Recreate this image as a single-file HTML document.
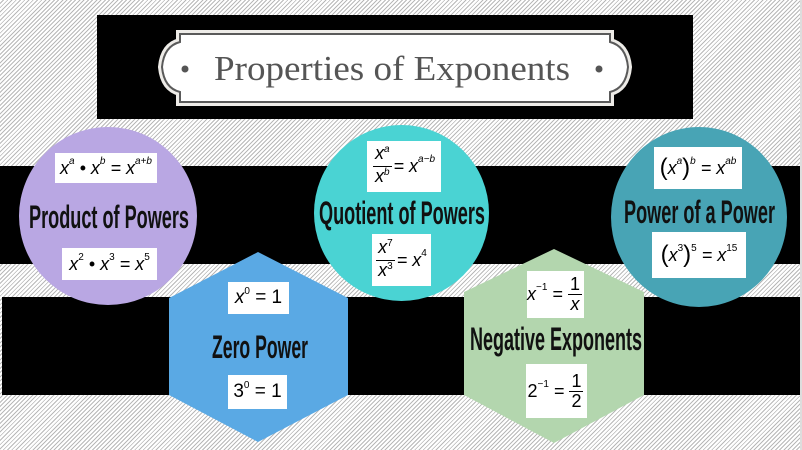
<!DOCTYPE html>
<html><head><meta charset="utf-8"><style>
*{margin:0;padding:0;box-sizing:border-box}
body{width:802px;height:450px;overflow:hidden;position:relative;font-family:"Liberation Sans",sans-serif;
background:#fff repeating-linear-gradient(135deg,#fff 0,#fff 2px,#b8b8b8 2px,#b8b8b8 3px);}
.abs{position:absolute}
.band{position:absolute;background:#000;left:0;width:800px}
.circ{position:absolute;border-radius:50%}
.box{position:absolute;background:#fff;display:flex;align-items:center;justify-content:center;font-family:"Liberation Sans",sans-serif;font-style:italic;font-size:18px;color:#000;white-space:nowrap}
.box sup{font-size:10px;position:relative;top:-7px;vertical-align:baseline}
.fr{display:inline-flex;flex-direction:column;align-items:center;line-height:19px;margin-right:2px}
.fr span:first-child{border-bottom:1px solid #000;padding:0 2px}
.n{font-style:normal}
</style></head><body>
<div class="abs" style="left:800px;top:0;width:2px;height:450px;background:#ddd"></div>
<div class="abs" style="left:97px;top:15px;width:596px;height:104px;background:#000"></div>
<svg class="abs" style="left:150px;top:20px" width="490" height="95">
<path d="M30,14 H460 V22 Q476,26 478,47 Q476,68 460,72 V82 H30 V72 Q14,68 12,47 Q14,26 30,22 Z" fill="#fff" stroke="#eeece8" stroke-width="8"/>
<path d="M30,14 H460 V22 Q476,26 478,47 Q476,68 460,72 V82 H30 V72 Q14,68 12,47 Q14,26 30,22 Z" fill="#fff" stroke="#5a5a5a" stroke-width="2"/>
<circle cx="35" cy="49" r="3.5" fill="#555"/><circle cx="449" cy="49" r="3.5" fill="#555"/>
<text x="242" y="60" text-anchor="middle" font-family="Liberation Serif, serif" font-size="35" fill="#555" textLength="356" lengthAdjust="spacingAndGlyphs">Properties of Exponents</text>
</svg>
<div class="band" style="top:166px;height:98px"></div>
<div class="band" style="top:297px;height:98px;left:2px;width:798px"></div>
<div class="circ" style="left:19px;top:127px;width:178px;height:178px;background:#b9a7e3"></div>
<div class="circ" style="left:314px;top:125px;width:175px;height:176px;background:#4ad3d3"></div>
<div class="circ" style="left:611px;top:127px;width:176px;height:180px;background:#48a4b5"></div>
<svg class="abs" style="left:0;top:0" width="802" height="450">
<polygon points="258,252 348,298 348,395 258,442 169,395 169,298" fill="#5aa9e4"/>
<polygon points="554,249 644,292 644,395 554,443 464,395 464,292" fill="#b3d6ae"/>
<g font-family="Liberation Sans, sans-serif" font-weight="bold" font-size="32" fill="#111">
<text x="29" y="228" textLength="160" lengthAdjust="spacingAndGlyphs">Product of Powers</text>
<text x="319" y="224" textLength="166" lengthAdjust="spacingAndGlyphs">Quotient of Powers</text>
<text x="624" y="223" textLength="151" lengthAdjust="spacingAndGlyphs">Power of a Power</text>
<text x="212" y="358" textLength="96" lengthAdjust="spacingAndGlyphs">Zero Power</text>
<text x="470" y="350" textLength="172" lengthAdjust="spacingAndGlyphs">Negative Exponents</text>
</g>
</svg>
<div class="box" style="left:55px;top:153px;width:102px;height:30px">x<sup>a</sup>&nbsp;• x<sup>b</sup>&nbsp;= x<sup>a+b</sup></div>
<div class="box" style="left:62px;top:248px;width:95px;height:32px">x<sup class="n">2</sup>&nbsp;• x<sup class="n">3</sup>&nbsp;= x<sup class="n">5</sup></div>
<div class="box" style="left:367px;top:141px;width:74px;height:51px"><span class="fr"><span>x<sup>a</sup></span><span>x<sup>b</sup></span></span>= x<sup>a−b</sup></div>
<div class="box" style="left:372px;top:234px;width:59px;height:52px"><span class="fr"><span>x<sup class="n">7</sup></span><span>x<sup class="n">3</sup></span></span>= x<sup class="n">4</sup></div>
<div class="box" style="left:654px;top:147px;width:88px;height:42px"><span class="n" style="font-size:24px">(</span>x<sup>a</sup><span class="n" style="font-size:24px">)</span><sup>b</sup>&nbsp;= x<sup>ab</sup></div>
<div class="box" style="left:652px;top:232px;width:94px;height:46px"><span class="n" style="font-size:24px">(</span>x<sup class="n">3</sup><span class="n" style="font-size:24px">)</span><sup class="n">5</sup>&nbsp;= x<sup class="n">15</sup></div>
<div class="box" style="left:228px;top:282px;width:61px;height:32px;font-size:19px">x<sup class="n">0</sup>&nbsp;<span class="n">= 1</span></div>
<div class="box n" style="left:228px;top:375px;width:59px;height:34px;font-size:19px;font-style:normal">3<sup>0</sup>&nbsp;= 1</div>
<div class="box" style="left:527px;top:271px;width:57px;height:47px">x<sup class="n">−1</sup>&nbsp;<span class="n">=</span>&nbsp;<span class="fr"><span class="n">1</span><span>x</span></span></div>
<div class="box n" style="left:526px;top:364px;width:61px;height:54px;font-style:normal">2<sup>−1</sup>&nbsp;=&nbsp;<span class="fr"><span>1</span><span>2</span></span></div>
</body></html>
